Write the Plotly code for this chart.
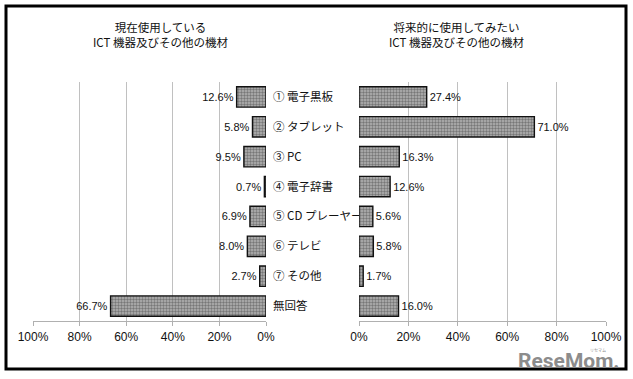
import plotly.graph_objects as go

categories = ["① 電子黒板", "② タブレット", "③ PC", "④ 電子辞書",
              "⑤ CD プレーヤー", "⑥ テレビ", "⑦ その他", "無回答"]
current_use = [12.6, 5.8, 9.5, 0.7, 6.9, 8.0, 2.7, 66.7]
future_use = [27.4, 71.0, 16.3, 12.6, 5.6, 5.8, 1.7, 16.0]
tick_vals = [0, 20, 40, 60, 80, 100]
tick_text = ["0%", "20%", "40%", "60%", "80%", "100%"]
title_left = "現在使用している<br>ICT 機器及びその他の機材"
title_right = "将来的に使用してみたい<br>ICT 機器及びその他の機材"

W, H = 633, 379
JP = "Noto Sans CJK JP"
AR = "Liberation Sans"

def px(x):
    return x / W

def py(y):
    return 1 - y / H

bar_marker = dict(
    color="#a0a0a0",
    line=dict(color="#111111", width=1.4),
    pattern=dict(shape=".", fgcolor="#3a3a3a", bgcolor="#b4b4b4", size=3, solidity=0.5),
)

fig = go.Figure()
fig.add_trace(go.Bar(
    x=current_use, y=categories, orientation="h", xaxis="x", yaxis="y",
    marker=bar_marker, width=0.68,
    texttemplate="%{x:.1f}%", textposition="outside", cliponaxis=False,
    textfont=dict(family=AR, size=11, color="#111111"), showlegend=False,
))
fig.add_trace(go.Bar(
    x=future_use, y=categories, orientation="h", xaxis="x2", yaxis="y2",
    marker=bar_marker, width=0.68,
    texttemplate="%{x:.1f}%", textposition="outside", cliponaxis=False,
    textfont=dict(family=AR, size=11, color="#111111"), showlegend=False,
))

ydom = [py(321), py(82)]
common_x = dict(
    tickvals=tick_vals, ticktext=tick_text, showgrid=True, gridcolor="#c0c0c0", gridwidth=1.2,
    showline=True, linecolor="#b0b0b0", linewidth=1.2, ticks="outside", ticklen=4,
    tickcolor="#b0b0b0", tickfont=dict(family=AR, size=12, color="#111111"),
    zeroline=False, fixedrange=True, automargin=False,
)
fig.update_layout(
    width=W, height=H, margin=dict(l=0, r=0, t=0, b=0, autoexpand=False),
    paper_bgcolor="white", plot_bgcolor="white",
    bargap=0.3,
    xaxis=dict(domain=[px(33), px(266)], range=[100, 0], anchor="y", **common_x),
    yaxis=dict(domain=ydom, anchor="x", side="right", categoryorder="array",
               categoryarray=categories, autorange="reversed", showgrid=False,
               showline=False, ticks="", ticklabelstandoff=6, automargin=False,
               tickfont=dict(family=JP, size=11.5, color="#111111")),
    xaxis2=dict(domain=[px(359), px(606)], range=[0, 100], anchor="y2", **common_x),
    yaxis2=dict(domain=ydom, anchor="x2", categoryorder="array",
                categoryarray=categories, autorange="reversed", showgrid=False,
                showline=False, ticks="", showticklabels=False, automargin=False),
    shapes=[dict(type="rect", xref="paper", yref="paper",
                 x0=px(6), x1=px(626), y0=py(369), y1=py(6),
                 line=dict(color="#000000", width=3))],
    annotations=[
        dict(text=title_left, x=px(160), y=py(35), xref="paper", yref="paper",
             xanchor="center", yanchor="middle",
             showarrow=False, font=dict(family=JP, size=11.5, color="#111111"), align="center"),
        dict(text=title_right, x=px(456), y=py(35), xref="paper", yref="paper",
             xanchor="center", yanchor="middle",
             showarrow=False, font=dict(family=JP, size=11.5, color="#111111"), align="center"),
        dict(text="<b>ReseMom.</b>", x=px(620), y=py(361), xref="paper", yref="paper",
             xanchor="right", yanchor="middle", showarrow=False, borderpad=0,
             font=dict(family="Roboto", size=21, color="#8c8c8c")),
        dict(text="リセマム", x=px(607), y=py(350), xref="paper", yref="paper",
             xanchor="right", yanchor="middle", showarrow=False, borderpad=0,
             font=dict(family=JP, size=4, color="#8c8c8c")),
    ],
)

fig.write_html(
    "out.html",
    config={"displayModeBar": False},
    post_script="document.body.style.margin='0';document.body.style.overflow='hidden';",
)
